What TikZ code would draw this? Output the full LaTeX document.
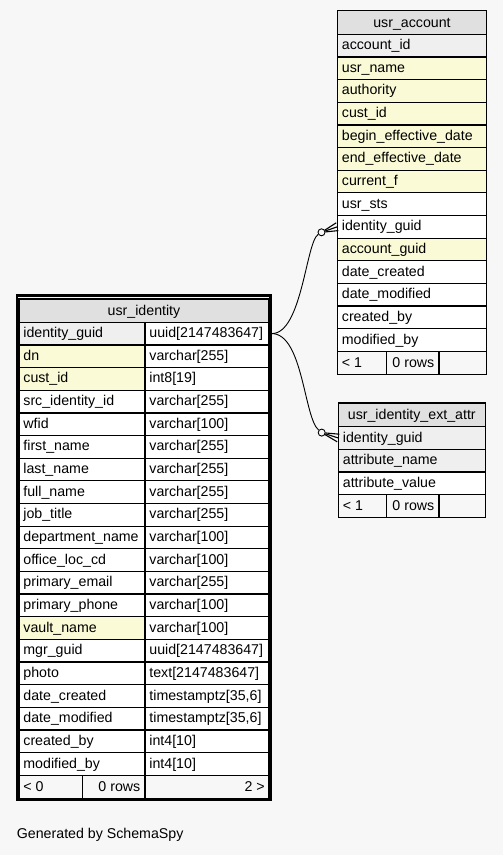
\documentclass[tikz,border=0pt]{standalone}
\usepackage{fontspec}
\setmainfont{Liberation Sans}
\definecolor{bg}{HTML}{F7F7F7}
\definecolor{hdr}{HTML}{E0E0E0}
\definecolor{pk}{HTML}{EFEFEF}
\definecolor{idx}{HTML}{FAFAD6}
\begin{document}
\begin{tikzpicture}[x=1pt,y=-1pt,
  cellbox/.style={draw=black, line width=1.25pt},
  txt/.style={inner sep=0pt, font=\fontsize{14.2}{16}\selectfont, anchor=base west},
  txtc/.style={txt, anchor=base},
  txte/.style={txt, anchor=base east},
  rel/.style={draw=black, line width=0.9pt},
  crowline/.style={draw=black, line width=1.1pt},
  odot/.style={circle, draw=black, line width=0.9pt, fill=bg, inner sep=0pt, minimum size=7pt}]
\useasboundingbox[fill=bg] (0,0) rectangle (503,855);

% ---------------- usr_identity ----------------
\draw[cellbox, fill=hdr] (19,299) rectangle (269,322.3);
\node[txtc] (uih) at (144,315) {usr\_identity};
\foreach [count=\i from 0] \f/\n/\t in {
  pk/identity\_guid/{uuid[2147483647]},
  idx/dn/{varchar[255]},
  idx/cust\_id/{int8[19]},
  white/src\_identity\_id/{varchar[255]},
  white/wfid/{varchar[100]},
  white/first\_name/{varchar[255]},
  white/last\_name/{varchar[255]},
  white/full\_name/{varchar[255]},
  white/job\_title/{varchar[255]},
  white/department\_name/{varchar[100]},
  white/office\_loc\_cd/{varchar[100]},
  white/primary\_email/{varchar[255]},
  white/primary\_phone/{varchar[100]},
  idx/vault\_name/{varchar[100]},
  white/mgr\_guid/{uuid[2147483647]},
  white/photo/{text[2147483647]},
  white/date\_created/{timestamptz[35,6]},
  white/date\_modified/{timestamptz[35,6]},
  white/created\_by/{int4[10]},
  white/modified\_by/{int4[10]}}{
  \pgfmathsetmacro\yt{322.3+22.65*\i}
  \pgfmathsetmacro\yb{\yt+22.65}
  \draw[cellbox, fill=\f] (19,\yt) rectangle (145,\yb);
  \draw[cellbox, fill=white] (145,\yt) rectangle (269,\yb);
  \node[txt] (uin\i) at (23.2,\yb-7.3) {\n};
  \node[txt] (uit\i) at (149.2,\yb-7.3) {\t};
}
\draw[cellbox, fill=bg] (19,775.3) rectangle (82.7,798.3);
\draw[cellbox, fill=bg] (82.7,775.3) rectangle (145,798.3);
\draw[cellbox, fill=bg] (145,775.3) rectangle (269,798.3);
\node[txt] (uif1) at (23.2,791) {< 0};
\node[txte] (uif2) at (140.5,791) {0 rows};
\node[txte] (uif3) at (265,791) {2 >};
\draw[line width=2.6pt] (17,295.7) rectangle (270.4,799.4);

% ---------------- usr_account ----------------
\draw[cellbox, fill=hdr] (337.3,10.7) rectangle (486.7,34.3);
\node[txtc] (uah) at (412,27.2) {usr\_account};
\foreach [count=\i from 0] \f/\n in {
  pk/account\_id, idx/usr\_name, idx/authority, idx/cust\_id,
  idx/begin\_effective\_date, idx/end\_effective\_date, idx/current\_f,
  white/usr\_sts, white/identity\_guid, idx/account\_guid,
  white/date\_created, white/date\_modified, white/created\_by,
  white/modified\_by}{
  \pgfmathsetmacro\yt{34.3+22.65*\i}
  \pgfmathsetmacro\yb{\yt+22.65}
  \draw[cellbox, fill=\f] (337.3,\yt) rectangle (486.7,\yb);
  \node[txt] (uan\i) at (341.7,\yb-7.3) {\n};
}
\draw[cellbox, fill=bg] (337.3,351.4) rectangle (386.7,374.5);
\draw[cellbox, fill=bg] (386.7,351.4) rectangle (439,374.5);
\draw[cellbox, fill=bg] (439,351.4) rectangle (486.7,374.5);
\node[txt] (uaf1) at (341.7,367.2) {< 1};
\node[txte] (uaf2) at (434.5,367.2) {0 rows};

% ---------------- usr_identity_ext_attr ----------------
\draw[cellbox, fill=hdr] (338.3,402.9) rectangle (485.3,426.7);
\node[txtc] (ueh) at (411.8,419.4) {usr\_identity\_ext\_attr};
\foreach [count=\i from 0] \f/\n in {
  pk/identity\_guid, pk/attribute\_name, white/attribute\_value}{
  \pgfmathsetmacro\yt{426.7+22.65*\i}
  \pgfmathsetmacro\yb{\yt+22.65}
  \draw[cellbox, fill=\f] (338.3,\yt) rectangle (485.3,\yb);
  \node[txt] (uen\i) at (342.7,\yb-7.3) {\n};
}
\draw[cellbox, fill=bg] (338.3,494.65) rectangle (386.7,517.5);
\draw[cellbox, fill=bg] (386.7,494.65) rectangle (439,517.5);
\draw[cellbox, fill=bg] (439,494.65) rectangle (485.3,517.5);
\node[txt] (uef1) at (342.7,510.2) {< 1};
\node[txte] (uef2) at (434.5,510.2) {0 rows};

% ---------------- relationships ----------------
\coordinate (p0) at (271.8,333.6);
\node[odot] (c1) at (321.5,232.3) {};
\node[odot] (c2) at (321.7,432.6) {};
\coordinate (a1t) at (336.2,222.8);
\coordinate (a1m) at (337.3,226.8);
\coordinate (a1b) at (338.3,230.6);
\coordinate (a2t) at (339.4,434.2);
\coordinate (a2m) at (338.3,438.0);
\coordinate (a2b) at (337.2,441.8);
\draw[rel] (p0) .. controls (302,333.6) and (306,242) .. (c1);
\draw[rel] (p0) .. controls (303,333.6) and (304,418) .. (c2);
\draw[crowline] (c1) -- (a1t);
\draw[crowline] (c1) -- (a1m);
\draw[crowline] (c1) -- (a1b);
\draw[crowline] (c2) -- (a2t);
\draw[crowline] (c2) -- (a2m);
\draw[crowline] (c2) -- (a2b);

\node[txt] (gen) at (16.7,838.5) {Generated by SchemaSpy};
\end{tikzpicture}
\end{document}
